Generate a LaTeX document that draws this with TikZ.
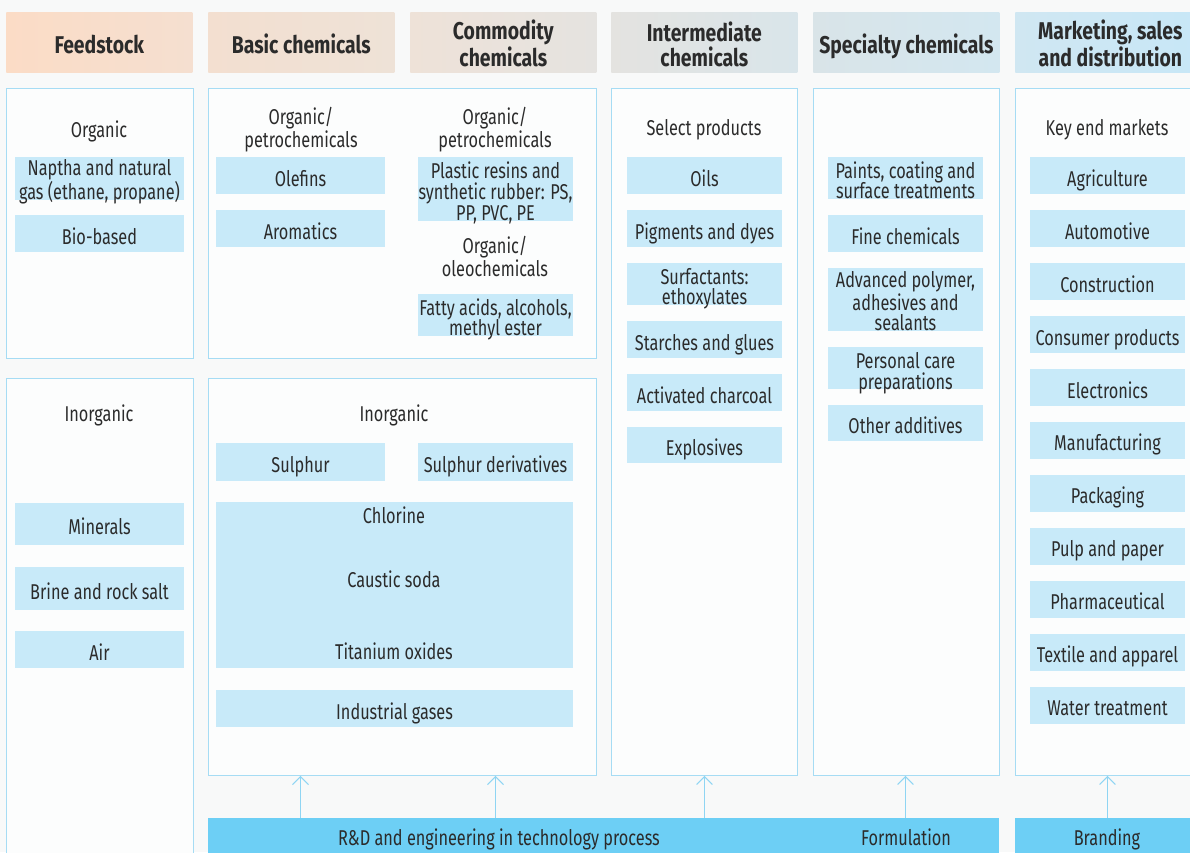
\documentclass[tikz,border=0pt]{standalone}
\usepackage{fontspec}
\setmainfont{Fira Sans}[FakeStretch=0.76, BoldFeatures={FakeStretch=0.8}]
\usetikzlibrary{arrows.meta, positioning}

\definecolor{bgcol}{HTML}{F8F9F9}
\definecolor{panelline}{HTML}{A6DCF4}
\definecolor{itemfill}{HTML}{C8EAF9}
\definecolor{barfill}{HTML}{6DCFF5}
\definecolor{arrowcol}{HTML}{8FD5F3}
\definecolor{txt}{HTML}{2B2B2B}
\definecolor{feedA}{HTML}{FBDCC6}
\definecolor{feedB}{HTML}{F5DFD0}
\definecolor{basicA}{HTML}{F3DFD0}
\definecolor{basicB}{HTML}{EEE2D7}
\definecolor{commA}{HTML}{EEE2D8}
\definecolor{commB}{HTML}{E5E3E0}
\definecolor{interA}{HTML}{E4E3E0}
\definecolor{interB}{HTML}{D9E5EA}
\definecolor{specA}{HTML}{D9E4E8}
\definecolor{specB}{HTML}{D3E7F0}
\definecolor{mktA}{HTML}{D0E7F2}
\definecolor{mktB}{HTML}{C7E7F7}

\begin{document}
\begin{tikzpicture}[x=0.02cm, y=-0.02cm, >={Straight Barb[length=4.5pt, width=9pt]}, text=txt]
      \tikzstyle{head}=[anchor=north west, inner sep=0pt, minimum height=1.2cm, minimum width=3.72cm, align=center,
        font=\bfseries\fontsize{13.8}{14.2}\selectfont, text height=16.7pt, text depth=3.5pt]
      \tikzstyle{headtwo}=[head, text height=30.9pt]
      \tikzstyle{lbl}=[inner sep=0pt, align=center, font=\fontsize{12.2}{11.9}\selectfont, text height=15pt, text depth=3pt]
      \tikzstyle{twoline}=[text height=23.9pt, text depth=0pt]
      \tikzstyle{threeline}=[text height=35.8pt, text depth=0pt]
      \tikzstyle{item}=[lbl, fill=itemfill, minimum width=3.1cm, minimum height=0.74cm]
      \tikzstyle{wide}=[item, minimum width=3.38cm]
      \tikzstyle{panel}=[anchor=north west, draw=panelline, fill=white!60!bgcol, line width=0.6pt, inner sep=0pt]
      \tikzstyle{bar}=[anchor=north west, fill=barfill, inner sep=0pt, minimum height=1cm]
      \tikzstyle{up}=[->, draw=arrowcol, line width=0.6pt]
      \useasboundingbox (0,0) rectangle (1190,852);
      \clip (0,0) rectangle (1190,852);
      \fill[bgcol] (0,0) rectangle (1190,852);
      % column headers
      \node[head, left color=feedA, right color=feedB] (hfeed) at (6,12) {Feedstock};
      \node[head, left color=basicA, right color=basicB] (hbasic) at (208,12) {Basic chemicals};
      \node[headtwo, left color=commA, right color=commB] (hcomm) at (410,12) {Commodity\\chemicals};
      \node[headtwo, left color=interA, right color=interB] (hinter) at (611,12) {Intermediate\\chemicals};
      \node[head, left color=specA, right color=specB] (hspec) at (813,12) {Specialty chemicals};
      \node[headtwo, left color=mktA, right color=mktB, minimum width=3.8cm] (hmkt) at (1015,12) {Marketing, sales\\and distribution};
      % panels
      \node[panel, minimum width=3.74cm, minimum height=5.4cm] (fdorg) at (6,88) {};
      \node[panel, minimum width=3.74cm, minimum height=10cm] (fdinorg) at (6,378) {};
      \node[panel, minimum width=7.76cm, minimum height=5.4cm] (bcorg) at (208,88) {};
      \node[panel, minimum width=7.76cm, minimum height=7.94cm] (bcinorg) at (208,378) {};
      \node[panel, minimum width=3.72cm, minimum height=13.74cm] (intm) at (611,88) {};
      \node[panel, minimum width=3.72cm, minimum height=13.74cm] (spec) at (813,88) {};
      \node[panel, minimum width=4cm, minimum height=13.74cm] (mkt) at (1015,88) {};
      % feedstock
      \node[lbl] (fdorglbl) at (99,126.7) {Organic};
      \node[wide, twoline, minimum height=0.86cm] (naptha) at (99.5,178.5) {Naptha and natural\\gas (ethane, propane)};
      \node[wide] (bio) at (99.5,233.5) {Bio-based};
      \node[lbl] (fdinorglbl) at (99,411.4) {Inorganic};
      \node[wide, minimum height=0.84cm] (minerals) at (99.5,524) {Minerals};
      \node[wide, minimum height=0.86cm] (brine) at (99.5,588.5) {Brine and rock salt};
      \node[wide] (air) at (99.5,649.5) {Air};
      % basic and commodity, organic
      \node[lbl, twoline] (bcpetro) at (301,126.7) {Organic/\\petrochemicals};
      \node[wide] (olefins) at (300.5,175.5) {Olefins};
      \node[wide] (aromatics) at (300.5,228.5) {Aromatics};
      \node[lbl, twoline] (cmpetro) at (495,126.7) {Organic/\\petrochemicals};
      \node[item, threeline, minimum height=1.28cm] (plastic) at (495.5,189) {Plastic resins and\\synthetic rubber: PS,\\PP, PVC, PE};
      \node[lbl, twoline] (cmoleo) at (495,256) {Organic/\\oleochemicals};
      \node[item, twoline, minimum height=0.86cm] (fatty) at (495.5,315) {Fatty acids, alcohols,\\methyl ester};
      % basic and commodity, inorganic
      \node[lbl] (bcinorglbl) at (394,411.4) {Inorganic};
      \node[wide, minimum height=0.76cm] (sulphur) at (300.5,462) {Sulphur};
      \node[item, minimum height=0.76cm] (sulphurder) at (495.5,462) {Sulphur derivatives};
      \node[item, minimum width=7.14cm, minimum height=3.32cm] (alkali) at (394.5,585) {};
      \node[lbl] (chlorine) at (394,512.7) {Chlorine};
      \node[lbl] (caustic) at (394,576.7) {Caustic soda};
      \node[lbl] (titanium) at (394,648.7) {Titanium oxides};
      \node[item, minimum width=7.14cm] (gases) at (394.5,708.5) {Industrial gases};
      % intermediate
      \node[lbl] (intmlbl) at (704,125.4) {Select products};
      \node[item] (oils) at (704.5,175.5) {Oils};
      \node[item] (pigments) at (704.5,228.5) {Pigments and dyes};
      \node[item, twoline, minimum height=0.84cm] (surfact) at (704.5,284) {Surfactants:\\ethoxylates};
      \node[item] (starches) at (704.5,339.5) {Starches and glues};
      \node[item] (charcoal) at (704.5,392.5) {Activated charcoal};
      \node[item, minimum height=0.72cm] (explosives) at (704.5,445) {Explosives};
      % specialty
      \node[item, twoline, minimum height=0.84cm] (paints) at (905.5,178) {Paints, coating and\\surface treatments};
      \node[item] (fine) at (905.5,233.5) {Fine chemicals};
      \node[item, threeline, minimum height=1.26cm] (polymer) at (905.5,299.5) {Advanced polymer,\\adhesives and\\sealants};
      \node[item, twoline, minimum height=0.84cm] (personal) at (905.5,368) {Personal care\\preparations};
      \node[item, minimum height=0.72cm] (other) at (905.5,423) {Other additives};
      % end markets
      \node[lbl] (mktlbl) at (1107,125.4) {Key end markets};
      \node[item] (agri) at (1107.5,175.5) {Agriculture};
      \node[item, below=1.06cm of agri.center, anchor=center] (auto) {Automotive};
      \node[item, below=1.06cm of auto.center, anchor=center] (constr) {Construction};
      \node[item, below=1.06cm of constr.center, anchor=center] (consumer) {Consumer products};
      \node[item, below=1.06cm of consumer.center, anchor=center] (electr) {Electronics};
      \node[item, below=1.06cm of electr.center, anchor=center] (manuf) {Manufacturing};
      \node[item, below=1.06cm of manuf.center, anchor=center] (pack) {Packaging};
      \node[item, below=1.06cm of pack.center, anchor=center] (pulp) {Pulp and paper};
      \node[item, below=1.06cm of pulp.center, anchor=center] (pharma) {Pharmaceutical};
      \node[item, below=1.06cm of pharma.center, anchor=center] (textile) {Textile and apparel};
      \node[item, below=1.06cm of textile.center, anchor=center] (water) {Water treatment};
      % support bars
      \node[bar, minimum width=15.82cm] (rdbar) at (208,818) {};
      \node[bar, minimum width=3.8cm] (brandbar) at (1015,818) {};
      \node[lbl] (rdlbl) at (499,835.4) {R\&D and engineering in technology process};
      \node[lbl] (formlbl) at (906,835.4) {Formulation};
      \node[lbl] (brandlbl) at (1107,835.4) {Branding};
      \draw[up] (rdbar.north -| olefins) -- (bcinorg.south -| olefins);
      \draw[up] (rdbar.north -| fatty) -- (bcinorg.south -| fatty);
      \draw[up] (rdbar.north -| oils) -- (intm.south -| oils);
      \draw[up] (rdbar.north -| paints) -- (spec.south -| paints);
      \draw[up] (brandbar.north -| agri) -- (mkt.south -| agri);
\end{tikzpicture}
\end{document}
